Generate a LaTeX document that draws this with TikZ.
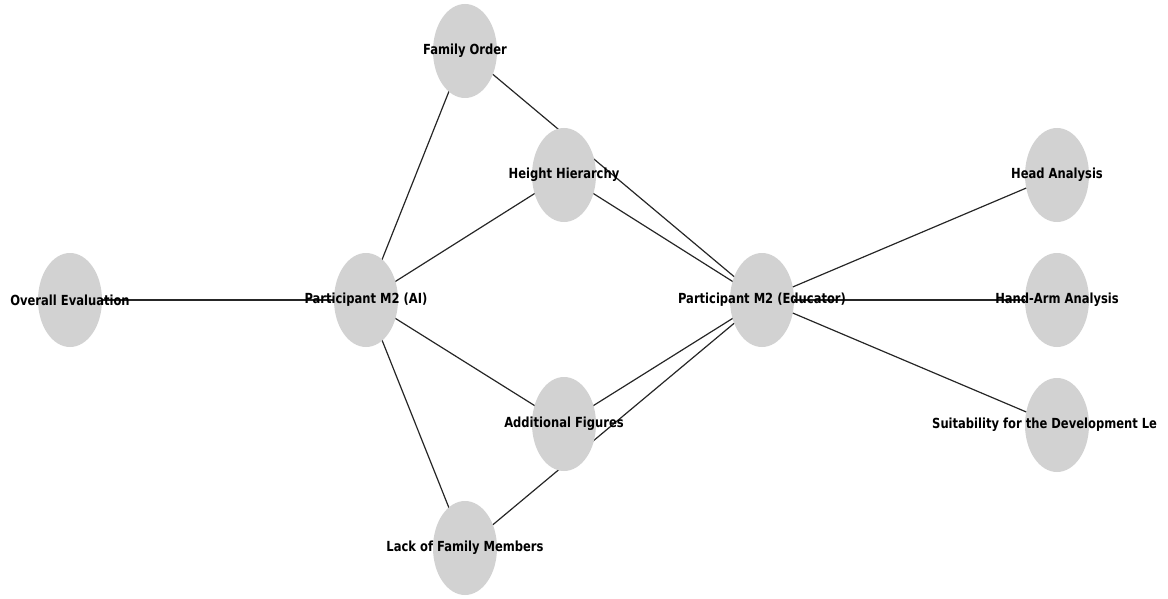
\documentclass[tikz,border=0pt]{standalone}
\usepackage{fontspec}
\setmainfont{DejaVu Sans}[FakeStretch=0.83]
\usetikzlibrary{shapes.geometric}
\pgfdeclarelayer{bg}
\pgfsetlayers{bg,main}
\begin{document}
\begin{tikzpicture}[x=1pt,y=-1pt,
  nd/.style={ellipse,fill=gray!35!white,draw=none,minimum width=64pt,minimum height=94pt,inner sep=0pt},
  lbl/.style={font=\fontsize{13.9}{16}\selectfont\bfseries,text=black,inner sep=0pt},
  edge/.style={draw=black!85,line width=1.2pt}]
\useasboundingbox (0,0) rectangle (1168,599);
\node[nd] (fo) at (465,51) {};
\node[nd] (hh) at (564,175) {};
\node[nd] (oe) at (70,300) {};
\node[nd] (ai) at (366,300) {};
\node[nd] (ed) at (762,300) {};
\node[nd] (ha) at (1057,175) {};
\node[nd] (haa) at (1057,300) {};
\node[nd] (su) at (1057,425) {};
\node[nd] (af) at (564,424) {};
\node[nd] (lf) at (465,548) {};
\begin{pgfonlayer}{bg}
\draw[edge] (oe.center) -- (ai.center);
\draw[edge] (ai.center) -- (fo.center);
\draw[edge] (ai.center) -- (hh.center);
\draw[edge] (ai.center) -- (af.center);
\draw[edge] (ai.center) -- (lf.center);
\draw[edge] (fo.center) -- (ed.center);
\draw[edge] (hh.center) -- (ed.center);
\draw[edge] (af.center) -- (ed.center);
\draw[edge] (lf.center) -- (ed.center);
\draw[edge] (ed.center) -- (ha.center);
\draw[edge] (ed.center) -- (haa.center);
\draw[edge] (ed.center) -- (su.center);
\end{pgfonlayer}
\node[lbl] at (fo) {Family Order};
\node[lbl] at (hh) {Height Hierarchy};
\node[lbl] at (oe) {Overall Evaluation};
\node[lbl] at (ai) {Participant M2 (AI)};
\node[lbl] at (ed) {Participant M2 (Educator)};
\node[lbl] at (ha) {Head Analysis};
\node[lbl] at (haa) {Hand-Arm Analysis};
\node[lbl] at (af) {Additional Figures};
\node[lbl] at (lf) {Lack of Family Members};
\node[lbl,anchor=west] at ([xshift=-125pt]su.center) {Suitability for the Development Le};
\end{tikzpicture}
\end{document}
